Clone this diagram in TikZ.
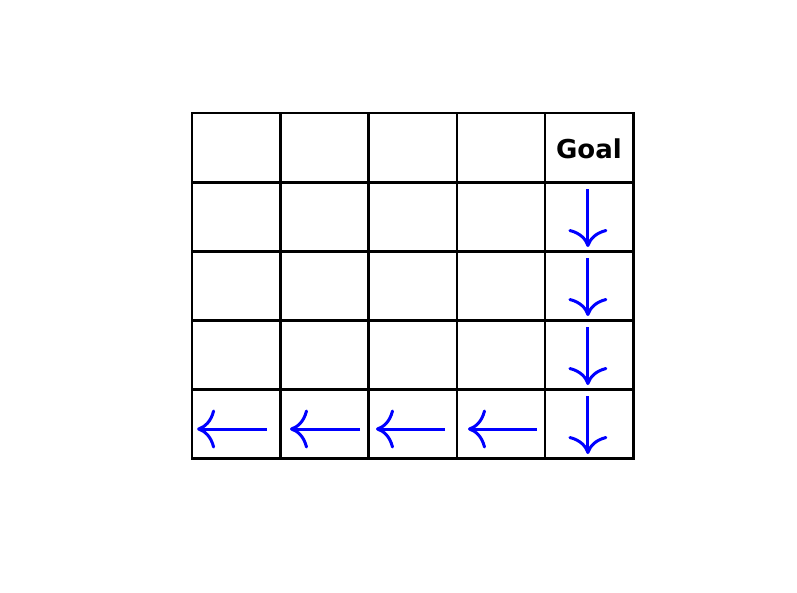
\documentclass[tikz,border=0pt]{standalone}
\usepackage{fontspec}
\setmainfont{DejaVu Sans}
\usetikzlibrary{arrows.meta,calc,positioning}
\definecolor{policyblue}{rgb}{0.0, 0.0, 1.0}

\begin{document}
\begin{tikzpicture}[x=1pt,y=-1pt]
        \tikzstyle{cell}=[minimum width=88.2pt,minimum height=69pt,inner sep=0pt]
        \tikzstyle{wall}=[line width=2.6pt,line cap=rect]
        \tikzstyle{move}=[policyblue,line width=3pt,-{Computer Modern Rightarrow[length=18pt,width=39pt,line width=3pt]}]
        \useasboundingbox (0,0) rectangle (797,592);

        % Grid cells
        \foreach \i in {1,...,5}{
            \foreach \j in {1,...,5}{
                \node (c-\i-\j)[cell] at ({192+88.2*(\i-0.5)},{113+69*(\j-0.5)}) {};
            }
        }

        % Grid lines
        \draw[wall] (c-1-1.north west) rectangle (c-5-5.south east);
        \foreach \k in {1,...,4}{
            \draw[wall] (c-\k-1.north east) -- (c-\k-5.south east);
            \draw[wall] (c-1-\k.south west) -- (c-5-\k.south east);
        }

        % Goal label
        \node[anchor=base,font=\bfseries\fontsize{26}{26}\selectfont] (goal) at ($(c-5-1)+(0,10.5)$) {Goal};

        % Arrows down the last column
        \foreach \j in {2,...,5}{
            \coordinate (d-top-\j) at ($(c-5-\j)+(-1,-27.5)$);
            \coordinate (d-tip-\j) at ($(c-5-\j)+(-1,30.5)$);
            \draw[move] (d-top-\j) -- (d-tip-\j);
        }

        % Arrows along the bottom row
        \foreach \i/\a/\b in {1/31/-39,2/35.7/-34.3,3/32.5/-36.5,4/36.3/-32.7}{
            \coordinate (l-tail-\i) at ($(c-\i-5)+(\a,5.5)$);
            \coordinate (l-tip-\i) at ($(c-\i-5)+(\b,5.5)$);
            \draw[move] (l-tail-\i) -- (l-tip-\i);
        }
    \end{tikzpicture}
\end{document}
